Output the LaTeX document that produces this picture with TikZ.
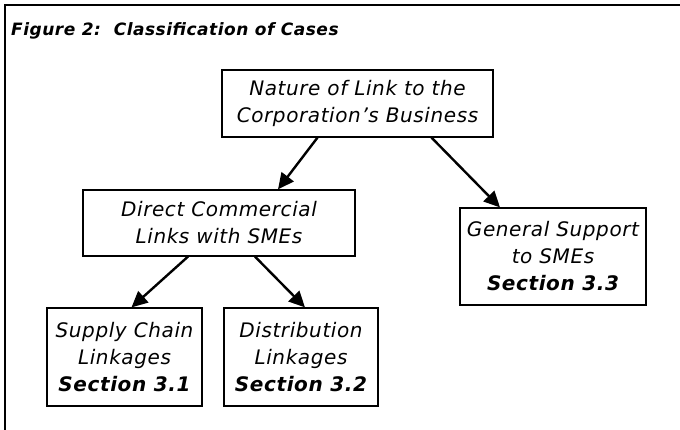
\documentclass[tikz,border=0pt]{standalone}
\usepackage{fontspec}
\setmainfont[LetterSpace=3]{DejaVu Sans}
\usepackage{tikz}
\usetikzlibrary{arrows.meta}
\usetikzlibrary{positioning}

\tikzset{
    casebox/.style   = {draw, line width=1.2pt, inner sep=0pt, align=center,
                        font=\fontsize{20}{27}\selectfont\itshape},
    linkarrow/.style = {line width=2.4pt, -{Triangle[length=16pt,width=15pt]}}
}
\newcommand{\secref}[1]{\textbf{\itshape Section #1}}

\begin{document}
\begin{tikzpicture}[x=1pt, y=-1pt]
            \useasboundingbox (0,0) rectangle (680,430);
            % frame
            \draw[line width=1.4pt] (5,430) -- (5,5) -- (680,5);
            \node[anchor=base west, inner sep=0pt, font=\fontsize{17}{20}\selectfont\bfseries\itshape] (title) at (11,36)
                 {Figure 2:\ \ Classification of Cases};
            % boxes
            \node[casebox, minimum width=271pt, minimum height=67pt] (nature)  at (357.5,103.5)
                 {Nature of Link to the\\Corporation's Business};
            \node[casebox, minimum width=272pt, minimum height=66pt] (direct)  at (219,223)
                 {Direct Commercial\\Links with SMEs};
            \node[casebox, minimum width=186pt, minimum height=97pt] (general) at (553,256.5)
                 {General Support\\to SMEs\\\secref{3.3}};
            \node[casebox, minimum width=155pt, minimum height=98pt] (supply)  at (124.5,357)
                 {Supply Chain\\Linkages\\\secref{3.1}};
            \node[casebox, minimum width=154pt, minimum height=98pt] (distrib) at (301,357)
                 {Distribution\\Linkages\\\secref{3.2}};
            % arrows
            \draw[linkarrow] ([xshift=-40pt]nature.south) -- ([xshift=59pt]direct.north);
            \draw[linkarrow] ([xshift=74pt]nature.south)  -- ([xshift=-53pt]general.north);
            \draw[linkarrow] ([xshift=-31pt]direct.south) -- ([xshift=7pt]supply.north);
            \draw[linkarrow] ([xshift=36pt]direct.south)  -- ([xshift=4pt]distrib.north);
        \end{tikzpicture}
\end{document}
